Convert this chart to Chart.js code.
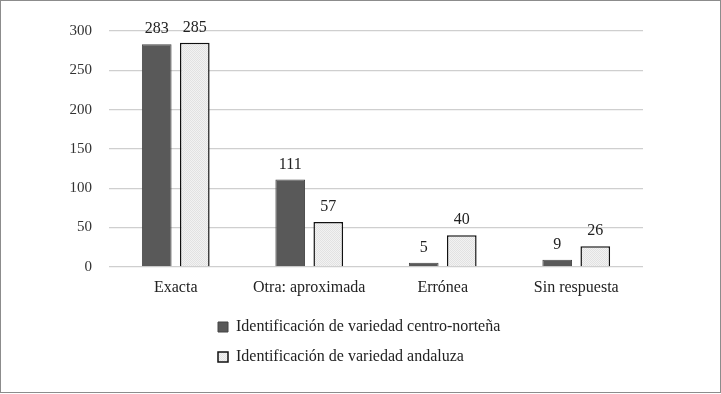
<!DOCTYPE html>
<html lang="es">
<head>
<meta charset="UTF-8" />
<title>Identificación de variedad</title>
<script src="https://cdn.jsdelivr.net/npm/chart.js"></script>
<style>
  body { margin: 0; background: #fff; }
  .frame {
    width: 721px;
    height: 393px;
    box-sizing: border-box;
    border: 1px solid #8c8c8c;
  }
  canvas { display: block; }
</style>
</head>
<body>

<div class="frame"><canvas id="chart" width="719" height="391"></canvas></div>

<script>
const categories = ['Exacta', 'Otra: aproximada', 'Errónea', 'Sin respuesta'];
const centroNorte = [283, 111, 5, 9];
const andaluza = [285, 57, 40, 26];
const seriesNames = ['Identificación de variedad centro-norteña', 'Identificación de variedad andaluza'];
const yTicks = [0, 50, 100, 150, 200, 250, 300];

const serif = "'Liberation Serif', 'DejaVu Serif', serif";

// light dotted fill like the original
function dotPattern() {
  const c = document.createElement('canvas');
  c.width = 2;
  c.height = 2;
  const g = c.getContext('2d');
  g.fillStyle = '#f2f2f2';
  g.fillRect(0, 0, 2, 2);
  g.fillStyle = '#e2e2e2';
  g.fillRect(0, 0, 1, 1);
  g.fillRect(1, 1, 1, 1);
  return g.createPattern(c, 'repeat');
}

// numbers above the bars
const valueLabels = {
  id: 'valueLabels',
  afterDatasetsDraw(chart) {
    const ctx = chart.ctx;
    ctx.save();
    ctx.font = '16px ' + serif;
    ctx.fillStyle = '#222';
    ctx.textAlign = 'center';
    ctx.textBaseline = 'alphabetic';
    chart.data.datasets.forEach((ds, i) => {
      chart.getDatasetMeta(i).data.forEach((bar, j) => {
        ctx.fillText(ds.data[j], bar.x, bar.y - 11);
      });
    });
    ctx.restore();
  }
};

// legend: one item per row, block under the middle, items left aligned
const legendBlock = {
  id: 'legendBlock',
  afterInit(chart) {
    const lg = chart.legend;
    const update = lg.update;
    lg.update = function (w, h, m) { update.call(this, 400, h, m); };
  },
  afterLayout(chart) {
    const lg = chart.legend;
    const w = lg.width;
    const h = lg.height;
    lg.left = 203;
    lg.right = 203 + w;
    lg.top = 304;
    lg.bottom = 304 + h;
  }
};

const ctx = document.getElementById('chart').getContext('2d');

new Chart(ctx, {
  type: 'bar',
  data: {
    labels: categories,
    datasets: [
      {
        label: seriesNames[0],
        data: centroNorte,
        backgroundColor: '#595959',
        borderColor: '#454545',
        borderWidth: 1
      },
      {
        label: seriesNames[1],
        data: andaluza,
        backgroundColor: dotPattern(),
        borderColor: '#111',
        borderWidth: 1.5
      }
    ]
  },
  options: {
    responsive: false,
    animation: false,
    categoryPercentage: 0.57,
    barPercentage: 0.78,
    layout: {
      padding: { top: 30, right: 77, bottom: 14, left: 0 }
    },
    scales: {
      x: {
        grid: { display: false, drawTicks: false },
        border: { display: false },
        ticks: {
          color: '#222',
          font: { family: serif, size: 16 },
          padding: 11
        }
      },
      y: {
        min: 0,
        max: 300,
        afterBuildTicks: (scale) => { scale.ticks = yTicks.map(v => ({ value: v })); },
        afterFit: (scale) => { scale.width = 108; },
        grid: { color: '#cfcfcf', lineWidth: 1.2, drawTicks: false },
        border: { display: false },
        ticks: {
          color: '#333',
          font: { family: serif, size: 15 },
          padding: 17
        }
      }
    },
    plugins: {
      legend: {
        position: 'bottom',
        align: 'start',
        fullSize: false,
        labels: {
          color: '#222',
          font: { family: serif, size: 16 },
          boxWidth: 10,
          boxHeight: 10,
          padding: 14
        }
      },
      tooltip: { enabled: false }
    }
  },
  plugins: [valueLabels, legendBlock]
});
</script>

</body>
</html>
